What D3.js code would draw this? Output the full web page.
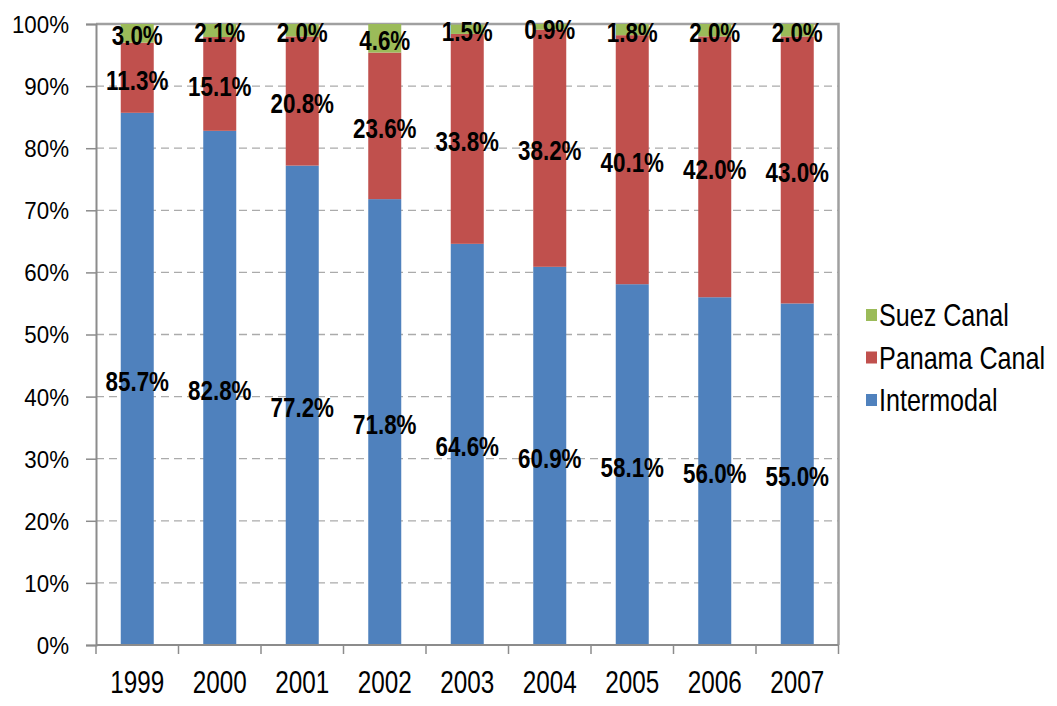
<!DOCTYPE html>
<html>
<head>
<meta charset="utf-8">
<script src="https://cdn.jsdelivr.net/npm/d3@7"></script>
<style>
  html, body { margin: 0; padding: 0; background: #fff; }
  svg { display: block; }
</style>
</head>
<body>
<svg id="chart" width="1057" height="706"></svg>
<script>
const years = ["1999","2000","2001","2002","2003","2004","2005","2006","2007"];
const intermodal = [85.7, 82.8, 77.2, 71.8, 64.6, 60.9, 58.1, 56.0, 55.0];
const panama     = [11.3, 15.1, 20.8, 23.6, 33.8, 38.2, 40.1, 42.0, 43.0];
const suez       = [3.0, 2.1, 2.0, 4.6, 1.5, 0.9, 1.8, 2.0, 2.0];
const seriesNames = ["Intermodal", "Panama Canal", "Suez Canal"];
const legendItems = ["Suez Canal", "Panama Canal", "Intermodal"];
const yTicks = [0,10,20,30,40,50,60,70,80,90,100];

const colors = {"Intermodal": "#4F81BD", "Panama Canal": "#C0504D", "Suez Canal": "#9BBB59"};
const font = "'Liberation Sans', Arial, sans-serif";

const svg = d3.select("#chart");
const mLeft = 96, mRight = 838.5, mTop = 24, mBottom = 645;

const x = d3.scaleBand().domain(years).range([mLeft, mRight]).paddingInner(0.6).paddingOuter(0.3);
const y = d3.scaleLinear().domain([0, 100]).range([mBottom, mTop]);

const rows = years.map((yr, i) => ({year: yr, "Intermodal": intermodal[i], "Panama Canal": panama[i], "Suez Canal": suez[i]}));
const stacked = d3.stack().keys(seriesNames)(rows);

// grid
svg.append("g").selectAll("line").data(yTicks.filter(t => t > 0 && t < 100)).join("line")
  .attr("x1", mLeft).attr("x2", mRight)
  .attr("y1", d => y(d)).attr("y2", d => y(d))
  .attr("stroke", "#ABABAB").attr("stroke-width", 1.3).attr("stroke-dasharray", "8,5");

// plot border top & right
svg.append("path")
  .attr("d", `M${mLeft},${y(100)}H${mRight}V${mBottom}`)
  .attr("fill", "none").attr("stroke", "#A0A0A0").attr("stroke-width", 2.5);

// bars
const layers = svg.append("g").selectAll("g").data(stacked).join("g")
  .attr("fill", d => colors[d.key]);
layers.selectAll("rect").data(d => d).join("rect")
  .attr("x", d => x(d.data.year))
  .attr("width", x.bandwidth())
  .attr("y", d => y(d[1]))
  .attr("height", d => y(d[0]) - y(d[1]));

// y axis
const ySx = 0.95;
const yAxis = svg.append("g").attr("transform", `translate(${mLeft},0)`)
  .call(d3.axisLeft(y).tickValues(yTicks).tickFormat(d => d + "%").tickSize(10).tickPadding(17));
yAxis.select(".domain").attr("stroke", "#8C8C8C").attr("stroke-width", 2);
yAxis.selectAll(".tick line").attr("stroke", "#8C8C8C").attr("stroke-width", 1.5);
yAxis.selectAll("text").attr("font-family", font).attr("font-size", 23.5).attr("fill", "#000")
  .attr("dy", "0.36em").attr("x", -27 / ySx).attr("transform", `scale(${ySx},1)`);

// x axis
const xSx = 0.77;
const xAxis = svg.append("g").attr("transform", `translate(0,${mBottom})`)
  .call(d3.axisBottom(x).tickSize(0).tickPadding(26));
xAxis.select(".domain").attr("stroke", "#8C8C8C").attr("stroke-width", 2).attr("d", `M${mLeft},0H${mRight}`);
xAxis.selectAll("text").attr("font-family", font).attr("font-size", 31.5).attr("fill", "#000")
  .attr("transform", `scale(${xSx},1)`);
// category separators
const step = x.step();
const seps = d3.range(years.length + 1).map(i => mLeft + i * step);
xAxis.append("g").selectAll("line").data(seps).join("line")
  .attr("x1", d => d).attr("x2", d => d).attr("y1", 0).attr("y2", 9)
  .attr("stroke", "#8C8C8C").attr("stroke-width", 1.5);

// data labels
const lSx = 0.8;
const labels = svg.append("g");
stacked.forEach(layer => {
  labels.selectAll(null).data(layer).join("text")
    .attr("transform", d => `translate(${x(d.data.year) + x.bandwidth() / 2},${y((d[0] + d[1]) / 2) + 2}) scale(${lSx},1)`)
    .attr("text-anchor", "middle")
    .attr("dominant-baseline", "central")
    .attr("font-family", font).attr("font-weight", "bold").attr("font-size", 28)
    .attr("fill", "#000")
    .text(d => d.data[layer.key].toFixed(1) + "%");
});

// legend
const gSx = 0.81;
const lg = svg.append("g").selectAll("g").data(legendItems).join("g")
  .attr("transform", (d, i) => `translate(866,${315 + i * 42.5})`);
lg.append("rect").attr("x", 0).attr("y", -6).attr("width", 11).attr("height", 12).attr("fill", d => colors[d]);
lg.append("text").attr("transform", `translate(13,11) scale(${gSx},1)`)
  .attr("font-family", font).attr("font-size", 31).attr("fill", "#000").text(d => d);
</script>
</body>
</html>
